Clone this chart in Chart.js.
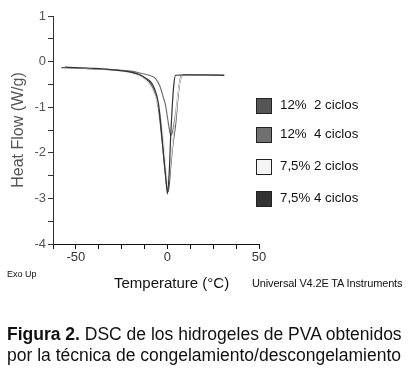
<!DOCTYPE html>
<html>
<head>
<meta charset="utf-8">
<script src="https://cdn.jsdelivr.net/npm/chart.js@4.4.1/dist/chart.umd.min.js"></script>
<style>
  body { margin: 0; background: #fff; font-family: "Liberation Sans", Arial, sans-serif; }
  #wrap { position: absolute; left: 0; top: 0; width: 410px; height: 370px; }
  .txt { position: absolute; white-space: pre; color: #111; }
  .box { position: absolute; width: 14px; height: 14px; border: 1px solid #222; }
</style>
</head>
<body>
<div id="wrap">
  <canvas id="dscChart" width="410" height="370"></canvas>
</div>
<div id="legend"></div>
<div class="txt" style="left:7px; top:269px; font-size:9px;">Exo Up</div>
<div class="txt" style="left:114px; top:274px; font-size:15px;">Temperature (°C)</div>
<div class="txt" style="left:252px; top:277px; font-size:11px; letter-spacing:-0.15px;">Universal V4.2E TA Instruments</div>
<div class="txt" style="left:7px; top:324px; font-size:17.5px; line-height:21px;"><b>Figura 2.</b> DSC de los hidrogeles de PVA obtenidos
por la técnica de congelamiento/descongelamiento</div>

<script>
// series labels and colours
const seriesLabels = ['12%  2 ciclos', '12%  4 ciclos', '7,5% 2 ciclos', '7,5% 4 ciclos'];
const lineColors = ['#555555', '#707070', '#e2e2e2', '#333333'];
const boxColors = ['#555555', '#707070', '#f4f4f4', '#333333'];

// [temperature °C, heat flow W/g]
const pva12c2 = [
  [-58, -0.13], [-45, -0.15], [-30, -0.18], [-20, -0.23], [-15, -0.30], [-12, -0.38],
  [-9, -0.50], [-7, -0.68], [-5, -1.00], [-3.8, -1.40], [-2, -2.10], [-0.5, -2.70],
  [0.5, -2.85], [1.8, -2.30], [3, -1.80], [4.4, -1.40], [5.5, -0.90], [6.5, -0.50],
  [7.5, -0.32], [9, -0.29], [20, -0.29], [31, -0.30]
];
const pva12c4 = [
  [-45, -0.15], [-30, -0.18], [-20, -0.21], [-15, -0.25], [-10, -0.30], [-6.6, -0.37],
  [-4, -0.55], [-2.5, -0.75], [-1.1, -0.95], [0.7, -1.40], [1.8, -1.62], [3, -1.50],
  [4.4, -1.15], [5.7, -0.75], [6.8, -0.45], [7.8, -0.32], [9.5, -0.29], [20, -0.29], [31, -0.30]
];
const pva75c2 = [
  [-56, -0.12], [-40, -0.15], [-30, -0.19], [-20, -0.25], [-15, -0.32], [-12, -0.40],
  [-9, -0.55], [-7, -0.72], [-4.7, -1.00], [-2.9, -1.45], [-1.5, -2.00], [-0.5, -2.50],
  [0.3, -2.70], [1.5, -2.30], [3, -1.70], [4.5, -1.20], [5.8, -0.70], [7, -0.40],
  [8, -0.30], [20, -0.29], [31, -0.30]
];
const pva75c4 = [
  [-56, -0.12], [-40, -0.15], [-30, -0.18], [-20, -0.23], [-15, -0.29], [-12, -0.36],
  [-9, -0.45], [-7, -0.60], [-5, -0.90], [-3.8, -1.30], [-2, -2.10], [-1, -2.50],
  [0, -2.90], [1, -2.40], [1.8, -1.60], [2.6, -1.00], [3.5, -0.50], [4.4, -0.30],
  [10, -0.29], [20, -0.29], [31, -0.30]
];
const seriesData = [pva12c2, pva12c4, pva75c2, pva75c4];

const xLabelTicks = [-50, 0, 50];
const yLabelTicks = [1, 0, -1, -2, -3, -4];

// legend as html
const legend = document.getElementById('legend');
const legendTops = [98, 127, 159, 191];
seriesLabels.forEach((lbl, i) => {
  const b = document.createElement('div');
  b.className = 'box';
  b.style.left = '256px';
  b.style.top = legendTops[i] + 'px';
  b.style.background = boxColors[i];
  legend.appendChild(b);
  const t = document.createElement('div');
  t.className = 'txt';
  t.style.left = '280px';
  t.style.top = (legendTops[i] - 1) + 'px';
  t.style.fontSize = '13.3px';
  t.textContent = lbl;
  legend.appendChild(t);
});

const ctx = document.getElementById('dscChart').getContext('2d');
new Chart(ctx, {
  type: 'line',
  data: {
    datasets: seriesData.map((d, i) => ({
      label: seriesLabels[i],
      data: d.map(p => ({ x: p[0], y: p[1] })),
      borderColor: lineColors[i],
      borderWidth: 1.2,
      pointRadius: 0,
      cubicInterpolationMode: 'monotone',
      fill: false
    })).reverse() // dark curves on top
  },
  options: {
    responsive: false,
    animation: false,
    layout: { padding: { left: 0, right: 151, top: 16, bottom: 96 } },
    plugins: { legend: { display: false }, tooltip: { enabled: false } },
    scales: {
      x: {
        type: 'linear',
        min: -62.5,
        max: 50,
        afterFit: scale => { scale.height = 30; },
        ticks: {
          stepSize: 12.5,
          autoSkip: false,
          maxRotation: 0,
          padding: 1,
          color: '#333',
          font: { family: 'Liberation Sans', size: 13 },
          callback: v => xLabelTicks.includes(v) ? String(v) : ''
        },
        grid: { drawOnChartArea: false, color: '#111', tickLength: 5 },
        border: { color: '#111', width: 1 }
      },
      y: {
        min: -4,
        max: 1,
        afterFit: scale => { scale.width = 53; },
        ticks: {
          stepSize: 0.5,
          autoSkip: false,
          padding: 2,
          color: '#555',
          font: { family: 'Liberation Sans', size: 13 },
          callback: v => yLabelTicks.includes(v) ? String(v) : ''
        },
        title: {
          display: true,
          text: 'Heat Flow (W/g)',
          color: '#555',
          font: { family: 'Liberation Sans', size: 16 },
          padding: { top: 9, bottom: 0 }
        },
        grid: { drawOnChartArea: false, color: '#333', tickLength: 5 },
        border: { color: '#333', width: 1 }
      }
    }
  }
});
</script>
</body>
</html>
